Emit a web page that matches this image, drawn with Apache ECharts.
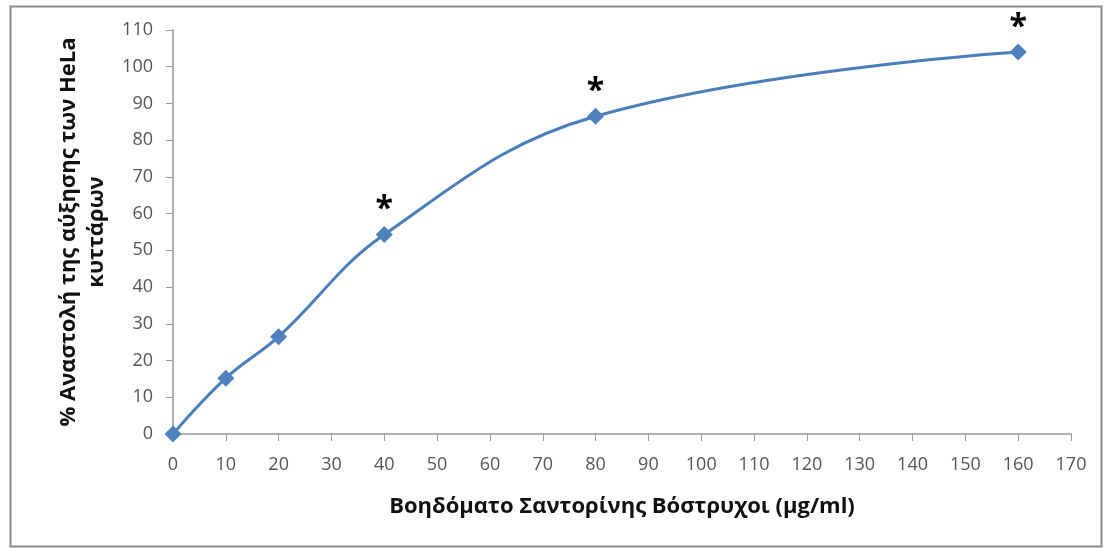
<!DOCTYPE html>
<html><head><meta charset="utf-8">
<script src="https://cdn.jsdelivr.net/npm/echarts@6/dist/echarts.min.js"></script>
<style>html,body{margin:0;padding:0;background:#fff}#c{width:1105px;height:548px}</style>
</head><body><div id="c"></div>
<script>
const doses = [0, 10, 20, 40, 80, 160];
const inhibition = [0, 15.2, 26.5, 54.3, 86.5, 104];
const significant = [false, false, false, true, true, true];
const xTitle = 'Βοηδόματο Σαντορίνης Βόστρυχοι (μg/ml)';
const yTitle = '% Αναστολή της αύξησης των HeLa\nκυττάρων';

const chart = echarts.init(document.getElementById('c'));
const font = "'Open Sans', 'Noto Sans', sans-serif";
chart.setOption({
  animation: false,
  backgroundColor: '#fff',
  graphic: [{
    type: 'rect', left: 8, top: 4, shape: {width: 1091, height: 540},
    style: {fill: 'none', stroke: '#8c8c8c', lineWidth: 2}, silent: true
  }],
  grid: {left: 173, right: 34, top: 30, bottom: 114, containLabel: false},
  xAxis: {
    type: 'value', min: 0, max: 170, interval: 10,
    name: xTitle, nameLocation: 'middle', nameGap: 62,
    nameTextStyle: {fontFamily: font, fontSize: 22, fontWeight: 'bold', color: '#111'},
    axisLine: {lineStyle: {color: '#999', width: 1.5}},
    axisTick: {show: true, length: 7, lineStyle: {color: '#999'}},
    axisLabel: {fontFamily: font, fontSize: 18, color: '#555', margin: 22},
    splitLine: {show: false}
  },
  yAxis: {
    type: 'value', min: 0, max: 110, interval: 10,
    name: yTitle, nameLocation: 'middle', nameGap: 57, nameRotate: 90,
    nameTextStyle: {fontFamily: font, fontSize: 22, fontWeight: 'bold', color: '#111', lineHeight: 28},
    axisLine: {show: true, lineStyle: {color: '#999', width: 1.5}},
    axisTick: {show: true, length: 7, lineStyle: {color: '#999'}},
    axisLabel: {fontFamily: font, fontSize: 18, color: '#555', margin: 20},
    splitLine: {show: false}
  },
  series: [{
    type: 'line', smooth: 0.4,
    data: doses.map((d, i) => ({
      value: [d, inhibition[i]],
      label: {show: significant[i], formatter: '*', position: 'top', distance: 0,
        fontSize: 32, fontWeight: 'bold', color: '#000', fontFamily: font}
    })),
    symbol: 'diamond', symbolSize: 17,
    lineStyle: {color: '#4a7ebb', width: 3},
    itemStyle: {color: '#4f81bd'}
  }]
});
</script></body></html>
